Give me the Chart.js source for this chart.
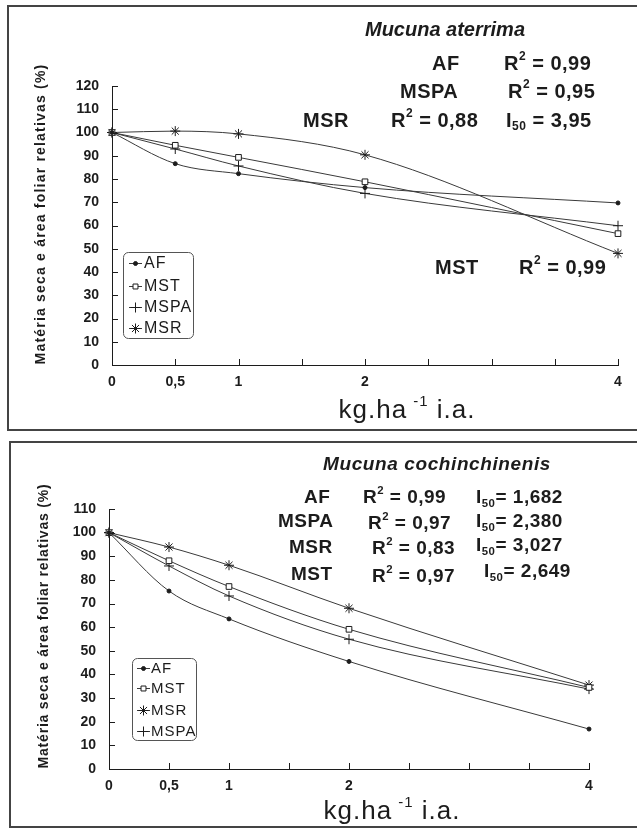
<!DOCTYPE html>
<html>
<head>
<meta charset="utf-8">
<script src="https://cdn.jsdelivr.net/npm/chart.js@4.4.1/dist/chart.umd.min.js"></script>
<style>
  html, body { margin: 0; padding: 0; background: #fff; }
  body { width: 637px; height: 829px; position: relative; overflow: hidden; }
  .panel { position: absolute; border: 2px solid #444; box-sizing: border-box; }
  canvas { position: absolute; left: 0; }
</style>
</head>
<body>
<div class="panel" style="left:7px; top:5px; width:640px; height:426px;"></div>
<div class="panel" style="left:9px; top:441px; width:640px; height:387px;"></div>
<div style="position:absolute; left:0; top:0; width:637px; height:432px;"><canvas id="chartTop"></canvas></div>
<div style="position:absolute; left:0; top:436px; width:637px; height:393px;"><canvas id="chartBottom"></canvas></div>
<script>
// doses (kg.ha-1 i.a.)
const doses = [0, 0.5, 1, 2, 4];
const xTickValues = [0, 0.5, 1, 2, 4];
const xTickText = ["0", "0,5", "1", "2", "4"];

// Mucuna aterrima
const aterAF = [100, 86.6, 82.3, 76.3, 69.7];
const aterMST = [100, 94.5, 89.3, 78.8, 56.5];
const aterMSPA = [100, 92.9, 85.6, 73.8, 59.9];
const aterMSR = [100, 100.6, 99.4, 90.4, 48];

// Mucuna cochinchinenis
const cochAF = [100, 75.3, 63.5, 45.5, 16.9];
const cochMST = [100, 88.1, 77.2, 59.1, 34.5];
const cochMSR = [100, 93.9, 86.2, 68, 35.5];
const cochMSPA = [100, 85.9, 73.2, 54.9, 33.8];

const yTitle = "Matéria seca e área foliar relativas (%)";
const xTitle = ["kg.ha", "-1", " i.a."];

const INK = "#1c1c1c";
const LINE = "#3a3a3a";
const FONT = "'Liberation Sans', Arial, Helvetica, sans-serif";

const styles = {
  AF: { pointStyle: "circle", pointRadius: 2, pointBackgroundColor: INK },
  MST: { pointStyle: "rect", pointRadius: 4, pointBackgroundColor: "#fff" },
  MSPA: { pointStyle: "cross", pointRadius: 5, pointBackgroundColor: "#fff" },
  MSR: { pointStyle: "star", pointRadius: 5, pointBackgroundColor: "#fff" },
};

function makeSet(label, values) {
  return Object.assign({
    label,
    data: doses.map((x, i) => ({ x, y: values[i] })),
    borderColor: LINE,
    borderWidth: 1,
    pointBorderColor: INK,
    pointBorderWidth: 1,
    cubicInterpolationMode: "monotone",
    fill: false,
    clip: false,
  }, styles[label]);
}

// draws "R^2 = 0,99" / "I_50 = 3,95" with small raised/lowered digits
function drawRich(ctx, x, y, text, size, weight, spacing) {
  const parts = text.split(/(\^\d+|_\d+)/).filter(s => s.length);
  let cx = x;
  ctx.textBaseline = "middle";
  ctx.textAlign = "left";
  for (const p of parts) {
    let s = p, sz = size, dy = 0;
    if (p[0] === "^") { s = p.slice(1); sz = size * 0.6; dy = -size * 0.35; }
    if (p[0] === "_") { s = p.slice(1); sz = size * 0.6; dy = size * 0.3; }
    ctx.font = weight + " " + sz + "px " + FONT;
    ctx.letterSpacing = spacing + "px";
    ctx.fillText(s, cx, y + dy);
    cx += ctx.measureText(s).width;
  }
}

const panelPlugin = {
  id: "panelPlugin",
  afterDraw(chart) {
    const o = chart.options.plugins.panelPlugin;
    const ctx = chart.ctx;
    const xs = chart.scales.x, ys = chart.scales.y;
    const area = chart.chartArea;
    ctx.save();
    ctx.strokeStyle = INK;
    ctx.fillStyle = INK;
    ctx.lineWidth = 1;

    // inward tick marks
    ctx.beginPath();
    for (let v = 0; v <= ys.max; v += 10) {
      const py = Math.round(ys.getPixelForValue(v)) + 0.5;
      ctx.moveTo(area.left, py);
      ctx.lineTo(area.left + 6, py);
    }
    for (let v = 0; v <= xs.max; v += 0.5) {
      const px = Math.round(xs.getPixelForValue(v)) + 0.5;
      ctx.moveTo(px, area.bottom);
      ctx.lineTo(px, area.bottom - 6);
    }
    ctx.stroke();

    // y title
    ctx.save();
    ctx.translate(o.yTitleX, o.yTitleY);
    ctx.rotate(-Math.PI / 2);
    ctx.font = "bold 14px " + FONT;
    ctx.letterSpacing = o.yTitleSpacing + "px";
    ctx.textAlign = "center";
    ctx.textBaseline = "middle";
    ctx.fillText(yTitle, 0, 0);
    ctx.restore();

    // x title
    ctx.font = "normal 26px " + FONT;
    ctx.letterSpacing = "1px";
    const w0 = ctx.measureText(xTitle[0]).width;
    ctx.font = "normal 15px " + FONT;
    const w1 = ctx.measureText(xTitle[1]).width + 6;
    ctx.font = "normal 26px " + FONT;
    const w2 = ctx.measureText(xTitle[2]).width;
    let tx = o.xTitleX - (w0 + w1 + w2) / 2;
    ctx.textAlign = "left";
    ctx.textBaseline = "alphabetic";
    ctx.fillText(xTitle[0], tx, o.xTitleY);
    ctx.font = "normal 15px " + FONT;
    ctx.fillText(xTitle[1], tx + w0 + 6, o.xTitleY - 12);
    ctx.font = "normal 26px " + FONT;
    ctx.fillText(xTitle[2], tx + w0 + w1, o.xTitleY);

    // species title
    ctx.font = "italic bold " + o.titleSize + "px " + FONT;
    ctx.letterSpacing = o.titleSpacing + "px";
    ctx.textAlign = "center";
    ctx.textBaseline = "middle";
    ctx.fillText(o.title, o.titleX, o.titleY);

    // fit statistics
    for (const a of o.notes) {
      drawRich(ctx, a[1], a[2], a[0], o.noteSize, "bold", 0.5);
    }

    // legend box
    const L = o.legend;
    ctx.letterSpacing = "0px";
    ctx.beginPath();
    ctx.roundRect(L.x + 0.5, L.y + 0.5, L.w, L.h, 5);
    ctx.strokeStyle = "#555";
    ctx.stroke();
    chart.data.datasets.forEach((ds, i) => {
      const ly = L.rows[i];
      ctx.strokeStyle = LINE;
      ctx.beginPath();
      ctx.moveTo(L.lineX0, ly + 0.5);
      ctx.lineTo(L.lineX1, ly + 0.5);
      ctx.stroke();
      ctx.strokeStyle = INK;
      ctx.fillStyle = ds.pointBackgroundColor;
      Chart.helpers.drawPoint(ctx, {
        pointStyle: ds.pointStyle,
        radius: ds.pointStyle === "rect" ? 3.5 : ds.pointRadius,
        borderWidth: 1,
        rotation: 0,
      }, (L.lineX0 + L.lineX1) / 2, ly + 0.5);
      ctx.fillStyle = INK;
      ctx.font = "normal " + L.size + "px " + FONT;
      ctx.letterSpacing = "1px";
      ctx.textAlign = "left";
      ctx.textBaseline = "middle";
      ctx.fillText(ds.label, L.textX, ly + 1);
    });
    ctx.restore();
  },
};

function axes(yMax, yWidth, xHeight) {
  return {
    x: {
      type: "linear", min: 0, max: 4,
      grid: { display: false, drawTicks: false },
      border: { display: true, color: INK, width: 1 },
      ticks: {
        stepSize: 0.5, autoSkip: false, maxRotation: 0, padding: 9,
        color: INK, font: { family: FONT, size: 14, weight: "bold" },
        callback: v => {
          const k = xTickValues.indexOf(v);
          return k >= 0 ? xTickText[k] : "";
        },
      },
      afterFit: s => { s.height = xHeight; },
    },
    y: {
      min: 0, max: yMax,
      grid: { display: false, drawTicks: false },
      border: { display: true, color: INK, width: 1 },
      ticks: {
        stepSize: 10, padding: 13,
        color: INK, font: { family: FONT, size: 14, weight: "bold" },
      },
      afterFit: s => { s.width = yWidth; },
    },
  };
}

function buildChart(id, sets, yMax, layoutPad, yWidth, xHeight, panel) {
  return new Chart(document.getElementById(id).getContext("2d"), {
    type: "line",
    data: { datasets: sets },
    options: {
      responsive: true,
      maintainAspectRatio: false,
      animation: false,
      devicePixelRatio: 1,
      layout: { padding: layoutPad },
      scales: axes(yMax, yWidth, xHeight),
      plugins: {
        legend: { display: false },
        tooltip: { enabled: false },
        panelPlugin: panel,
      },
    },
    plugins: [panelPlugin],
  });
}

buildChart("chartTop",
  [makeSet("AF", aterAF), makeSet("MST", aterMST), makeSet("MSPA", aterMSPA), makeSet("MSR", aterMSR)],
  120, { top: 86, right: 19, left: 0, bottom: 0 }, 112, 67,
  {
    title: "Mucuna aterrima", titleX: 445, titleY: 30, titleSize: 20, titleSpacing: 0,
    yTitleX: 41, yTitleY: 214, yTitleSpacing: 1.2,
    xTitleX: 407, xTitleY: 418,
    noteSize: 20,
    notes: [
      ["AF", 432, 64], ["R^2 = 0,99", 504, 64],
      ["MSPA", 400, 92], ["R^2 = 0,95", 508, 92],
      ["MSR", 303, 121], ["R^2 = 0,88", 391, 121], ["I_50 = 3,95", 506, 121],
      ["MST", 435, 268], ["R^2 = 0,99", 519, 268],
    ],
    legend: { x: 123, y: 252, w: 70, h: 86, rows: [263, 286, 307, 328], lineX0: 129, lineX1: 142, textX: 144, size: 16 },
  });

buildChart("chartBottom",
  [makeSet("AF", cochAF), makeSet("MST", cochMST), makeSet("MSR", cochMSR), makeSet("MSPA", cochMSPA)],
  110, { top: 73, right: 48, left: 0, bottom: 0 }, 109, 60,
  {
    title: "Mucuna cochinchinenis", titleX: 437, titleY: 29, titleSize: 19, titleSpacing: 0.6,
    yTitleX: 44, yTitleY: 190, yTitleSpacing: 0.8,
    xTitleX: 392, xTitleY: 383,
    noteSize: 19,
    notes: [
      ["AF", 304, 62], ["R^2 = 0,99", 363, 62], ["I_50= 1,682", 476, 62],
      ["MSPA", 278, 86], ["R^2 = 0,97", 368, 88], ["I_50= 2,380", 476, 86],
      ["MSR", 289, 112], ["R^2 = 0,83", 372, 113], ["I_50= 3,027", 476, 110],
      ["MST", 291, 139], ["R^2 = 0,97", 372, 141], ["I_50= 2,649", 484, 136],
    ],
    legend: { x: 132, y: 222, w: 64, h: 82, rows: [232, 252, 274, 295], lineX0: 137, lineX1: 150, textX: 151, size: 15 },
  });
</script>
</body>
</html>
